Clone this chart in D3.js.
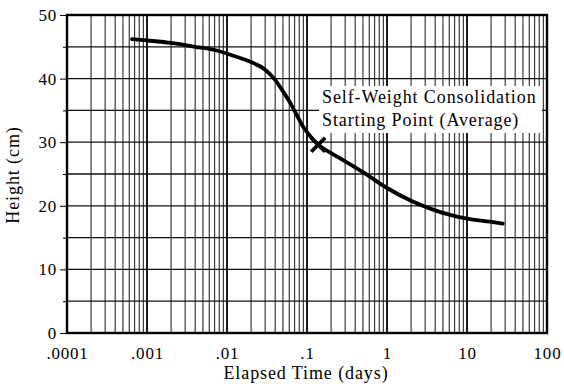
<!DOCTYPE html>
<html lang="en">
<head>
<meta charset="UTF-8">
<title>Height vs elapsed time</title>
<script src="https://d3js.org/d3.v7.min.js"></script>
<style>
  body { margin: 0; background: #fff; }
  text { font-family: "Liberation Serif", "Times New Roman", serif; fill: #000; }
</style>
</head>
<body>
<div id="chart"></div>
<script>
// values
const times   = [0.00065, 0.001, 0.002, 0.004, 0.007, 0.012, 0.02, 0.03, 0.04, 0.05, 0.061, 0.075, 0.088, 0.1, 0.12, 0.138, 0.2, 0.3, 0.5, 1, 2, 3.4, 6, 10, 19.5, 28]
const heights = [46.2, 46.0, 45.6, 45.0, 44.5, 43.6, 42.6, 41.4, 39.8, 38.0, 36.3, 34.2, 32.6, 31.6, 30.4, 29.6, 28.3, 27.0, 25.3, 22.8, 20.8, 19.6, 18.6, 18.0, 17.5, 17.2]
const marker  = {time: 0.138, height: 29.6}
const xTicks  = [0.0001, 0.001, 0.01, 0.1, 1, 10, 100]
const xTickLabels = [".0001", ".001", ".01", ".1", "1", "10", "100"]
const yTicks  = [0, 10, 20, 30, 40, 50]
const yMinor  = [5, 15, 25, 35, 45]
const noteLines = ["Self-Weight Consolidation", "Starting Point (Average)"]

const width = 564
const height = 390
const mLeft = 67, mRight = 547, mTop = 15, mBottom = 333

const svg = d3.select("div#chart").append("svg")
    .attr("width", width)
    .attr("height", height)

const xScale = d3.scaleLog().domain([0.0001, 100]).range([mLeft, mRight])
const yScale = d3.scaleLinear().domain([0, 50]).range([mBottom, mTop])

// vertical log grid, 1..9 in every decade
const minorX = []
for (let e = -4; e < 2; e++) {
    for (let m = 2; m <= 9; m++) minorX.push(m * Math.pow(10, e))
}
svg.append("g").selectAll("line")
    .data(minorX)
    .join("line")
    .attr("x1", d => xScale(d)).attr("x2", d => xScale(d))
    .attr("y1", mTop).attr("y2", mBottom)
    .attr("stroke", "#2a2a2a")
    .attr("stroke-width", 1.1)

svg.append("g").selectAll("line")
    .data(xTicks)
    .join("line")
    .attr("x1", d => xScale(d)).attr("x2", d => xScale(d))
    .attr("y1", mTop).attr("y2", mBottom)
    .attr("stroke", "#000")
    .attr("stroke-width", 1.8)

// horizontal grid every 5
svg.append("g").selectAll("line")
    .data(yTicks.concat(yMinor))
    .join("line")
    .attr("x1", mLeft).attr("x2", mRight)
    .attr("y1", d => yScale(d)).attr("y2", d => yScale(d))
    .attr("stroke", "#111")
    .attr("stroke-width", 1.3)

// axes
const xAxis = d3.axisBottom(xScale)
    .tickValues(xTicks)
    .tickFormat((d, i) => xTickLabels[i])
    .tickSize(0)
    .tickPadding(14)
svg.append("g")
    .attr("class", "axis")
    .attr("transform", "translate(0," + mBottom + ")")
    .call(xAxis)

const yAxis = d3.axisLeft(yScale)
    .tickValues(yTicks)
    .tickSize(7)
    .tickPadding(3)
svg.append("g")
    .attr("class", "yAxis")
    .attr("transform", "translate(" + mLeft + ",0)")
    .call(yAxis)

svg.append("g")
    .attr("transform", "translate(" + mLeft + ",0)")
    .call(d3.axisLeft(yScale).tickValues(yMinor).tickSize(4).tickFormat(""))

svg.selectAll(".axis text, .yAxis text")
    .style("font-size", "17px")
    .style("letter-spacing", "0.8px")
    .style("font-family", "'Liberation Serif', serif")
svg.selectAll("g .domain").remove()

// frame
svg.append("rect")
    .attr("x", mLeft).attr("y", mTop)
    .attr("width", mRight - mLeft).attr("height", mBottom - mTop)
    .attr("fill", "none")
    .attr("stroke", "#000")
    .attr("stroke-width", 2.4)

// annotation with white backing
svg.append("rect")
    .attr("x", 319).attr("y", 86)
    .attr("width", 223).attr("height", 47)
    .attr("fill", "#fff")

svg.append("g").selectAll("text")
    .data(noteLines)
    .join("text")
    .attr("x", 322)
    .attr("y", (d, i) => 103 + i * 23)
    .style("font-size", "18px")
    .style("letter-spacing", "0.9px")
    .text(d => d)

// curve
const line = d3.line()
    .x((d, i) => xScale(times[i]))
    .y(d => yScale(d))
    .curve(d3.curveMonotoneX)

svg.append("path")
    .attr("d", line(heights))
    .attr("fill", "none")
    .attr("stroke", "#000")
    .attr("stroke-width", 3.8)
    .attr("stroke-linecap", "round")

// starting point X
const mx = xScale(marker.time), my = yScale(marker.height)
svg.append("path")
    .attr("d", `M${mx - 7},${my - 7}L${mx + 7},${my + 7}M${mx - 7},${my + 7}L${mx + 7},${my - 7}`)
    .attr("stroke", "#000")
    .attr("stroke-width", 3.8)

// titles
svg.append("text")
    .attr("x", 306)
    .attr("y", 379)
    .style("text-anchor", "middle")
    .style("font-size", "18px")
    .style("letter-spacing", "0.9px")
    .text("Elapsed Time (days)")

svg.append("text")
    .attr("transform", "rotate(-90,19,175)")
    .attr("x", 19)
    .attr("y", 175)
    .style("text-anchor", "middle")
    .style("font-size", "18px")
    .style("letter-spacing", "0.9px")
    .text("Height (cm)")
</script>
</body>
</html>
